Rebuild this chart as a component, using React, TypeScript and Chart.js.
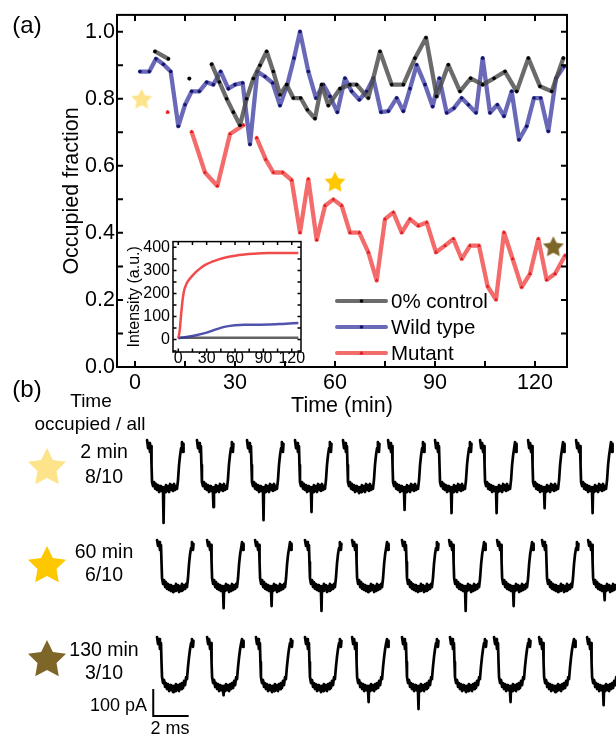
import React, { useEffect, useRef } from "react";
import { Chart, registerables } from "chart.js";
Chart.register(...registerables);

const FONT = "'Liberation Sans', Arial, Helvetica, sans-serif";

// ---------- Panel (a): occupied fraction vs time ----------
const seriesLabels = ["0% control", "Wild type", "Mutant"];

const controlTime = [6, 10, 13, 16.3, 19.5, 23, 25.3, 27.5, 29.5, 31.5, 33.5, 35.5, 37.5, 39.5, 41.5, 43.5, 45.5, 47.5, 49.7, 51.7, 54, 56, 58, 61.5, 64.5, 66.5, 70, 73.5, 77, 80.5, 84, 87.3, 90.5, 94, 97.5, 100.7, 104.3, 107.7, 111, 114.5, 118, 121.5, 125, 128.5];
const controlFraction = [0.941, 0.919, null, 0.86, null, 0.903, 0.85, 0.8, 0.76, 0.721, 0.8, 0.86, 0.9, 0.941, 0.881, 0.812, 0.842, 0.802, 0.802, 0.767, 0.741, 0.842, 0.78, 0.83, 0.842, 0.842, 0.802, 0.941, 0.842, 0.842, 0.921, 0.982, 0.807, 0.901, 0.822, 0.861, 0.842, 0.861, 0.881, 0.822, 0.921, 0.837, 0.822, 0.921];

const wildTime = [1.5, 4.3, 6.3, 8.5, 10.7, 13, 15, 17, 19.3, 21.5, 23.5, 25.7, 28, 30, 32.3, 34.5, 36.7, 39, 41.3, 43.5, 45.7, 47.7, 49.5, 52, 54.3, 56.5, 58.5, 60.7, 63, 65, 67.3, 69.5, 71.5, 73.8, 76, 78.5, 80.5, 82.5, 84.5, 87, 89.3, 91.3, 93.5, 95.7, 98, 100, 102.3, 104.3, 106.5, 108.7, 110.7, 113, 115.2, 117.5, 119.7, 121.7, 124, 126.3, 128.7];
const wildFraction = [0.881, 0.881, 0.919, 0.903, 0.881, 0.718, 0.782, 0.822, 0.822, 0.849, 0.842, 0.881, 0.83, 0.842, 0.847, 0.664, 0.881, 0.866, 0.847, 0.78, 0.842, 0.921, 1.0, 0.881, 0.802, 0.842, 0.807, 0.76, 0.861, 0.822, 0.797, 0.822, 0.861, 0.76, 0.763, 0.802, 0.763, 0.83, 0.901, 0.842, 0.777, 0.861, 0.758, 0.772, 0.802, 0.782, 0.758, 0.921, 0.758, 0.782, 0.748, 0.822, 0.678, 0.718, 0.802, 0.802, 0.703, 0.861, 0.896];

const mutantTime = [9.8, 13, 17, 21, 24.7, 28.5, 32.5, 34.5, 36.5, 39.2, 41.5, 44.3, 47, 49.5, 52, 54.5, 57, 59.5, 62, 64.5, 67.3, 70, 72.5, 75, 77.5, 80, 82.5, 85, 87.5, 90.3, 93, 95.5, 98, 100.5, 103.2, 105.8, 108.3, 110.7, 113.3, 116, 118.5, 121, 123.5, 126, 129];
const mutantFraction = [0.76, null, 0.701, 0.58, 0.54, 0.695, 0.721, null, 0.683, 0.619, 0.58, 0.58, 0.557, 0.401, 0.56, 0.379, 0.481, 0.5, 0.481, 0.401, 0.401, 0.342, 0.258, 0.441, 0.461, 0.401, 0.441, 0.421, 0.431, 0.342, 0.362, 0.382, 0.322, 0.362, 0.362, 0.24, 0.201, 0.401, 0.322, 0.238, 0.278, 0.382, 0.26, 0.278, 0.332];

const starTime = [2, 60, 125.5];
const starFraction = [0.797, 0.55, 0.357];
const starColors = ["#fde48a", "#fdc800", "#7d6628"];

const xTickValues = [0, 30, 60, 90, 120];
const yTickValues = [0, 0.2, 0.4, 0.6, 0.8, 1.0];

// ---------- Inset: intensity vs time ----------
const insetXTicks = [0, 30, 60, 90, 120];
const insetYTicks = [0, 100, 200, 300, 400];
const insetMutantTime = [0, 1.5, 3, 4.5, 6, 8, 10, 13, 16, 20, 25, 30, 36, 42, 50, 60, 70, 80, 95, 110, 127];
const insetMutantIntensity = [5, 40, 110, 170, 210, 235, 252, 268, 282, 298, 315, 327, 338, 347, 356, 364, 369, 372, 375, 376, 376];
const insetWildTime = [0, 10, 20, 30, 40, 50, 60, 70, 80, 95, 110, 127];
const insetWildIntensity = [6, 12, 20, 30, 44, 56, 62, 64, 64, 65, 68, 72];
const insetControlTime = [0, 30, 60, 90, 127];
const insetControlIntensity = [8, 8, 8, 8, 8];

// ---------- Panel (b): current traces (ms, pA) ----------
const traceTime = [0, 0.06, 0.12, 0.17, 0.23, 0.26, 0.29, 0.35, 0.41, 0.47, 0.52, 0.58, 0.64, 0.7, 0.76, 0.81, 0.87, 0.93, 0.96, 0.99, 1.05, 1.1, 1.16, 1.22, 1.28, 1.34, 1.4, 1.45, 1.51, 1.57, 1.63, 1.69, 1.74, 1.8, 1.86, 1.92, 1.98, 2.03, 2.09, 2.12];
const SPIKE_INDEX = 18;
const row1Current = [0, -31, -12, -46, -23, -96, -162, -177, -162, -188, -169, -192, -173, -200, -177, -196, -181, -204, -204, -181, -200, -173, -196, -177, -200, -169, -192, -173, -196, -169, -192, -177, -188, -154, -96, -58, -31, -8, -46, -15];
const row2Current = [0, -23, -8, -38, -19, -85, -146, -169, -154, -181, -162, -188, -169, -192, -173, -196, -177, -200, -200, -177, -196, -169, -192, -173, -200, -177, -196, -169, -192, -173, -188, -169, -181, -146, -92, -54, -31, -8, -38, -15];
const row3Current = [0, -27, -8, -46, -23, -96, -154, -177, -165, -192, -177, -200, -181, -208, -185, -204, -188, -212, -212, -188, -208, -181, -204, -185, -208, -181, -200, -177, -196, -169, -185, -154, -162, -115, -77, -46, -23, -8, -38, -15];
const row1Spike = [-319, -258, -308, -277, -196, -269, -281, -281, -262, -281];
const row2Spike = [-192, -262, -254, -273, -192, -192, -273, -254, -192, -231];
const row3Spike = [-205, -224, -205, -205, -250, -277, -205, -250, -205, -262];
const row1Start = [0.41, 3.31, 6.22, 9.01, 11.8, 14.42, 17.15, 19.77, 22.56, 25.35];
const row2Start = [0.99, 3.9, 6.69, 9.59, 12.33, 15.23, 17.97, 20.76, 23.37, 26.05];
const row3Start = [0.99, 3.9, 6.74, 9.59, 12.33, 15.23, 18.02, 20.58, 23.2, 25.99];
const scaleBarTime = [0.77, 0.77, 2.77];
const scaleBarCurrent = [-204, -304, -304];
const rowTimeLabels = ["2 min", "60 min", "130 min"];
const rowRatioLabels = ["8/10", "6/10", "3/10"];

// ---------- helpers ----------
function makeStar(color: string, R: number, inner: number) {
  const size = Math.ceil(R * 2 + 2);
  const c = document.createElement("canvas");
  c.width = size;
  c.height = size;
  const g = c.getContext("2d")!;
  g.fillStyle = color;
  g.beginPath();
  for (let k = 0; k < 10; k++) {
    const r = k % 2 === 0 ? R : R * inner;
    const a = -Math.PI / 2 + (k * Math.PI) / 5;
    const px = size / 2 + r * Math.cos(a);
    const py = size / 2 + r * Math.sin(a);
    if (k === 0) g.moveTo(px, py);
    else g.lineTo(px, py);
  }
  g.closePath();
  g.fill();
  return c;
}

const framePlugin = {
  id: "frame",
  afterDatasetsDraw(chart: any, _args: any, opts: any) {
    if (!opts || !opts.enabled) return;
    const { ctx, chartArea: a, scales } = chart;
    const xs = scales.x;
    const ys = scales.y;
    ctx.save();
    ctx.strokeStyle = "#000";
    ctx.lineWidth = opts.width;
    ctx.beginPath();
    for (let k = Math.ceil(xs.min / opts.xStep - 1e-9); k * opts.xStep <= xs.max + 1e-9; k++) {
      const p = xs.getPixelForValue(k * opts.xStep);
      ctx.moveTo(p, a.bottom);
      ctx.lineTo(p, a.bottom - opts.len);
      ctx.moveTo(p, a.top);
      ctx.lineTo(p, a.top + opts.len);
    }
    for (let k = Math.ceil(ys.min / opts.yStep - 1e-9); k * opts.yStep <= ys.max + 1e-9; k++) {
      const p = ys.getPixelForValue(k * opts.yStep);
      ctx.moveTo(a.left, p);
      ctx.lineTo(a.left + opts.len, p);
      ctx.moveTo(a.right, p);
      ctx.lineTo(a.right - opts.len, p);
    }
    ctx.stroke();
    ctx.strokeRect(a.left, a.top, a.right - a.left, a.bottom - a.top);
    ctx.restore();
  },
};

const legendPlugin = {
  id: "insideLegend",
  afterDraw(chart: any, _args: any, opts: any) {
    if (!opts || !opts.enabled) return;
    const { ctx } = chart;
    ctx.save();
    for (let i = 0; i < opts.count; i++) {
      const ds = chart.data.datasets[i];
      const y = opts.y0 + i * opts.dy;
      ctx.strokeStyle = ds.borderColor;
      ctx.lineWidth = 4;
      ctx.lineCap = "round";
      ctx.beginPath();
      ctx.moveTo(opts.x0, y);
      ctx.lineTo(opts.x1, y);
      ctx.stroke();
      ctx.fillStyle = ds.pointBackgroundColor;
      const cx = (opts.x0 + opts.x1) / 2;
      ctx.beginPath();
      if (ds.pointStyle === "triangle") {
        ctx.moveTo(cx, y - 2.2);
        ctx.lineTo(cx + 2.2, y + 1.6);
        ctx.lineTo(cx - 2.2, y + 1.6);
        ctx.closePath();
      } else {
        ctx.arc(cx, y, 1.8, 0, Math.PI * 2);
      }
      ctx.fill();
      ctx.fillStyle = "#000";
      ctx.font = opts.font;
      ctx.textAlign = "left";
      ctx.textBaseline = "middle";
      ctx.fillText(ds.label, opts.textX, y + 1);
    }
    ctx.restore();
  },
};

function toPoints(xs: number[], ys: (number | null)[]) {
  return xs.map((x, i) => ({ x, y: ys[i] }));
}

function MainChart() {
  const ref = useRef<HTMLCanvasElement>(null);
  useEffect(() => {
    const stars = starColors.map((c) => makeStar(c, 11, 0.5));
    const lineDs = (label: string, xs: number[], ys: (number | null)[], color: string, dot: string, style: string) => ({
      label,
      data: toPoints(xs, ys),
      borderColor: color,
      borderWidth: 4.3,
      borderJoinStyle: "round",
      borderCapStyle: "round",
      pointRadius: style === "triangle" ? 2.2 : 1.8,
      pointStyle: style,
      pointBackgroundColor: dot,
      pointBorderWidth: 0,
      tension: 0,
      spanGaps: false,
    });
    const chart = new Chart(ref.current!, {
      type: "line",
      data: {
        datasets: [
          lineDs(seriesLabels[0], controlTime, controlFraction, "rgba(75,75,75,0.82)", "#000", "circle"),
          lineDs(seriesLabels[1], wildTime, wildFraction, "rgba(55,55,160,0.75)", "#14146e", "circle"),
          lineDs(seriesLabels[2], mutantTime, mutantFraction, "rgba(240,65,65,0.78)", "#e0181c", "triangle"),
          {
            label: "stars",
            data: toPoints(starTime, starFraction),
            showLine: false,
            pointStyle: stars as any,
            pointRadius: 11,
          } as any,
        ],
      },
      options: {
        responsive: false,
        animation: false,
        layout: { padding: { top: 13, right: 49, left: 0, bottom: 0 } },
        plugins: {
          legend: { display: false },
          tooltip: { enabled: false },
          frame: { enabled: true, xStep: 15, yStep: 0.1, len: 6, width: 2 },
          insideLegend: { enabled: true, count: 3, x0: 337, x1: 386, y0: 301, dy: 26, textX: 391, font: `20.5px ${FONT}` },
        } as any,
        scales: {
          x: {
            type: "linear",
            min: -5.4,
            max: 129.6,
            grid: { display: false, drawTicks: false },
            border: { display: false },
            afterBuildTicks: (s: any) => {
              s.ticks = xTickValues.map((v) => ({ value: v }));
            },
            afterFit: (s: any) => {
              s.height = 53;
            },
            ticks: { color: "#000", font: { family: FONT, size: 21.5 }, padding: 3, maxRotation: 0, autoSkip: false },
            title: { display: true, text: "Time (min)", color: "#000", font: { family: FONT, size: 21.5 }, padding: { top: 0, bottom: 1 } },
          },
          y: {
            type: "linear",
            min: 0,
            max: 1.05,
            grid: { display: false, drawTicks: false },
            border: { display: false },
            afterBuildTicks: (s: any) => {
              s.ticks = yTickValues.map((v) => ({ value: v }));
            },
            afterFit: (s: any) => {
              s.width = 117;
            },
            ticks: { color: "#000", font: { family: FONT, size: 21.5 }, padding: 2, callback: (v: any) => Number(v).toFixed(1) },
            title: { display: true, text: "Occupied fraction", color: "#000", font: { family: FONT, size: 21.5 }, padding: { top: 59, bottom: 0 } },
          },
        },
      } as any,
      plugins: [framePlugin, legendPlugin],
    });
    return () => chart.destroy();
  }, []);
  return <canvas ref={ref} width={616} height={420} style={{ position: "absolute", left: 0, top: 0 }} />;
}

function InsetChart() {
  const ref = useRef<HTMLCanvasElement>(null);
  useEffect(() => {
    const ds = (label: string, xs: number[], ys: number[], color: string) => ({
      label,
      data: toPoints(xs, ys),
      borderColor: color,
      borderWidth: 2.5,
      pointRadius: 0,
      tension: 0.35,
      cubicInterpolationMode: "monotone",
    });
    const chart = new Chart(ref.current!, {
      type: "line",
      data: {
        datasets: [
          ds(seriesLabels[2], insetMutantTime, insetMutantIntensity, "rgba(240,55,55,0.9)"),
          ds(seriesLabels[1], insetWildTime, insetWildIntensity, "rgba(50,50,160,0.85)"),
          ds(seriesLabels[0], insetControlTime, insetControlIntensity, "rgba(70,70,70,0.85)"),
        ],
      },
      options: {
        responsive: false,
        animation: false,
        layout: { padding: { top: 8, right: 4, left: 0, bottom: 0 } },
        plugins: {
          legend: { display: false },
          tooltip: { enabled: false },
          frame: { enabled: true, xStep: 15, yStep: 50, len: 3.5, width: 1.5 },
        } as any,
        scales: {
          x: {
            type: "linear",
            min: -5.6,
            max: 129.8,
            grid: { display: false, drawTicks: false },
            border: { display: false },
            afterBuildTicks: (s: any) => {
              s.ticks = insetXTicks.map((v) => ({ value: v }));
            },
            afterFit: (s: any) => {
              s.height = 13;
            },
            ticks: { color: "#000", font: { family: FONT, size: 16 }, padding: -3, maxRotation: 0, autoSkip: false },
          },
          y: {
            type: "linear",
            min: -54,
            max: 425,
            grid: { display: false, drawTicks: false },
            border: { display: false },
            afterBuildTicks: (s: any) => {
              s.ticks = insetYTicks.map((v) => ({ value: v }));
            },
            afterFit: (s: any) => {
              s.width = 68;
            },
            ticks: { color: "#000", font: { family: FONT, size: 16 }, padding: 3 },
            title: { display: true, text: "Intensity (a.u.)", color: "#000", font: { family: FONT, size: 16 }, padding: { top: 20, bottom: 0 } },
          },
        },
      } as any,
      plugins: [framePlugin],
    });
    return () => chart.destroy();
  }, []);
  return <canvas ref={ref} width={200} height={136} style={{ position: "absolute", left: 105, top: 229 }} />;
}

function TraceRow(props: { top: number; current: number[]; spikes: number[]; starts: number[]; scaleBar?: boolean }) {
  const ref = useRef<HTMLCanvasElement>(null);
  useEffect(() => {
    const datasets: any[] = props.starts.map((s, k) => ({
      data: traceTime.map((t, i) => ({ x: s + t, y: i === SPIKE_INDEX ? props.spikes[k] : props.current[i] })),
      borderColor: "#000",
      borderWidth: 2.7,
      borderJoinStyle: "round",
      borderCapStyle: "round",
      pointRadius: 0,
      tension: 0,
    }));
    if (props.scaleBar) {
      datasets.push({
        data: toPoints(scaleBarTime, scaleBarCurrent),
        borderColor: "#000",
        borderWidth: 2,
        pointRadius: 0,
        tension: 0,
        borderCapStyle: "square",
      });
    }
    const chart = new Chart(ref.current!, {
      type: "line",
      data: { datasets },
      options: {
        responsive: false,
        animation: false,
        layout: { padding: 0 },
        plugins: { legend: { display: false }, tooltip: { enabled: false } },
        scales: {
          x: { type: "linear", min: 0, max: 27.67, display: false },
          y: { type: "linear", min: -346, max: 38.5, display: false },
        },
      } as any,
    });
    return () => chart.destroy();
  }, []);
  return <canvas ref={ref} width={476} height={100} style={{ position: "absolute", left: 140, top: props.top }} />;
}

function Label(props: { x: number; y: number; text: string; size: number; align?: "center" | "right" | "left" }) {
  const align = props.align || "center";
  const tr = align === "center" ? "translate(-50%,-50%)" : align === "right" ? "translate(-100%,-50%)" : "translate(0,-50%)";
  return (
    <div
      style={{
        position: "absolute",
        left: props.x,
        top: props.y,
        transform: tr,
        fontFamily: FONT,
        fontSize: props.size,
        lineHeight: 1,
        whiteSpace: "nowrap",
        color: "#000",
      }}
    >
      {props.text}
    </div>
  );
}

function StarIcon(props: { cx: number; cy: number; r: number; color: string }) {
  const { cx, cy, r, color } = props;
  const pts: string[] = [];
  for (let k = 0; k < 10; k++) {
    const rr = k % 2 === 0 ? r : r * 0.5;
    const a = -Math.PI / 2 + (k * Math.PI) / 5;
    pts.push(`${(r + rr * Math.cos(a)).toFixed(2)},${(r + rr * Math.sin(a)).toFixed(2)}`);
  }
  return (
    <svg width={2 * r} height={2 * r} style={{ position: "absolute", left: cx - r, top: cy - r }}>
      <polygon points={pts.join(" ")} fill={color} />
    </svg>
  );
}

export default function App() {
  const rowY = [468, 566, 660];
  const labelY = [[452, 477], [552, 575], [650, 673]];
  return (
    <div style={{ position: "absolute", left: 0, top: 0, width: 616, height: 736, background: "#fff", overflow: "hidden" }}>
      <MainChart />
      <InsetChart />
      <Label x={27} y={25} text="(a)" size={24} />
      <Label x={27} y={389} text="(b)" size={24} />
      <Label x={91} y={400} text="Time" size={19} />
      <Label x={90} y={423} text="occupied / all" size={19} />
      {rowTimeLabels.map((t, i) => (
        <React.Fragment key={t}>
          <StarIcon cx={47} cy={rowY[i]} r={20} color={starColors[i]} />
          <Label x={104} y={labelY[i][0]} text={t} size={19.5} />
          <Label x={104} y={labelY[i][1]} text={rowRatioLabels[i]} size={19.5} />
        </React.Fragment>
      ))}
      <TraceRow top={430} current={row1Current} spikes={row1Spike} starts={row1Start} />
      <TraceRow top={530} current={row2Current} spikes={row2Spike} starts={row2Start} />
      <TraceRow top={627} current={row3Current} spikes={row3Spike} starts={row3Start} scaleBar />
      <Label x={147} y={705} text="100 pA" size={18} align="right" />
      <Label x={170} y={728} text="2 ms" size={18} />
    </div>
  );
}
